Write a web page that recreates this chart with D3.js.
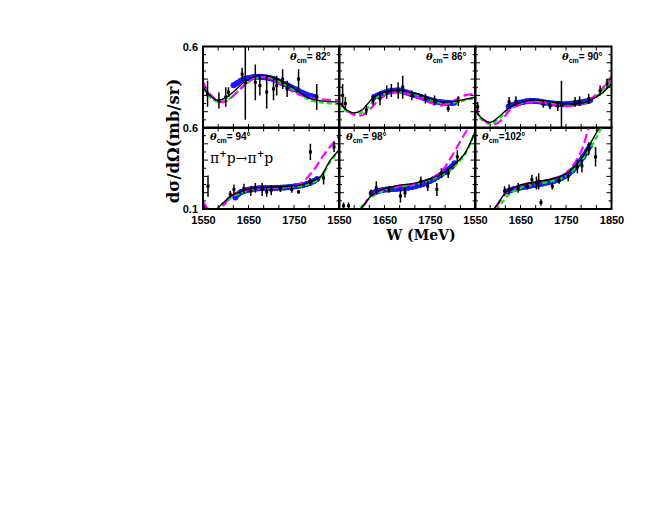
<!DOCTYPE html>
<html><head><meta charset="utf-8">
<script src="https://cdn.jsdelivr.net/npm/d3@7"></script>
<style>body{margin:0;background:#fff}svg{display:block}</style>
</head><body>
<svg id="c" width="664" height="513"></svg>
<script>
const angles = [82, 86, 90, 94, 98, 102];
const xTickLabels = [1550, 1650, 1750];
const yTickLabelsTop = [0.6];
const yTickLabelsBottom = [0.1, 0.6];

// black solid curves [W, value]
const blackCurves = [
 [[1550,0.352],[1565,0.30],[1581,0.27],[1600,0.285],[1620,0.33],[1645,0.39],[1676,0.424],[1705,0.41],[1740,0.36],[1786,0.28],[1815,0.265],[1850,0.26]],
 [[1550,0.26],[1565,0.215],[1583,0.193],[1600,0.21],[1627,0.29],[1650,0.32],[1679,0.331],[1720,0.31],[1775,0.259],[1800,0.262],[1826,0.275],[1850,0.29]],
 [[1550,0.21],[1565,0.16],[1584,0.135],[1605,0.175],[1627,0.228],[1650,0.255],[1671,0.27],[1700,0.268],[1744,0.249],[1780,0.25],[1803,0.27],[1832,0.32],[1850,0.373]],
 [[1550,0.13],[1560,0.09],[1577,0.095],[1595,0.14],[1610,0.177],[1632,0.207],[1660,0.227],[1710,0.235],[1764,0.247],[1790,0.27],[1808,0.298],[1830,0.40],[1850,0.463]],
 [[1550,0.05],[1597,0.10],[1619,0.177],[1642,0.217],[1680,0.245],[1715,0.257],[1752,0.287],[1789,0.338],[1810,0.39],[1826,0.439],[1850,0.58]],
 [[1550,0.02],[1591,0.10],[1620,0.207],[1649,0.247],[1686,0.267],[1722,0.287],[1751,0.318],[1781,0.40],[1803,0.50],[1821,0.59],[1830,0.64]]
];
// green dashed curves
const greenCurves = [
 [[1550,0.345],[1565,0.29],[1584,0.259],[1605,0.275],[1625,0.32],[1650,0.38],[1676,0.414],[1705,0.40],[1740,0.35],[1786,0.27],[1815,0.255],[1850,0.245]],
 [[1550,0.255],[1565,0.205],[1590,0.186],[1610,0.215],[1630,0.28],[1655,0.315],[1680,0.325],[1720,0.305],[1775,0.252],[1800,0.255],[1826,0.27],[1850,0.285]],
 [[1550,0.205],[1565,0.15],[1584,0.125],[1605,0.165],[1627,0.22],[1650,0.25],[1671,0.265],[1700,0.262],[1744,0.243],[1780,0.245],[1803,0.27],[1832,0.33],[1850,0.40]],
 [[1550,0.12],[1560,0.085],[1580,0.09],[1598,0.13],[1612,0.17],[1635,0.2],[1660,0.222],[1710,0.23],[1764,0.24],[1790,0.262],[1808,0.29],[1830,0.39],[1850,0.463]],
 [[1550,0.04],[1593,0.10],[1617,0.165],[1642,0.205],[1680,0.237],[1715,0.25],[1752,0.28],[1789,0.33],[1810,0.38],[1826,0.43],[1850,0.58]],
 [[1550,0.02],[1597,0.10],[1625,0.19],[1655,0.235],[1690,0.255],[1722,0.272],[1751,0.30],[1781,0.39],[1805,0.48],[1828,0.60],[1835,0.64]]
];
// magenta long-dash curves
const magentaCurves = [
 [[1550,0.383],[1565,0.31],[1588,0.259],[1605,0.27],[1625,0.32],[1650,0.385],[1676,0.42],[1705,0.39],[1749,0.321],[1786,0.285],[1815,0.275],[1850,0.27]],
 [[1550,0.265],[1570,0.2],[1597,0.176],[1620,0.22],[1640,0.28],[1665,0.315],[1686,0.322],[1720,0.29],[1775,0.238],[1800,0.265],[1826,0.30],[1850,0.31]],
 [[1550,0.22],[1568,0.15],[1595,0.125],[1612,0.16],[1630,0.22],[1655,0.25],[1675,0.262],[1700,0.255],[1745,0.235],[1780,0.245],[1810,0.29],[1835,0.36],[1850,0.414]],
 [[1550,0.146],[1562,0.10],[1578,0.085],[1598,0.135],[1615,0.185],[1640,0.215],[1665,0.228],[1710,0.232],[1760,0.25],[1793,0.338],[1815,0.43],[1841,0.52],[1850,0.55]],
 [[1550,0.04],[1597,0.10],[1620,0.18],[1645,0.22],[1680,0.24],[1715,0.255],[1752,0.287],[1775,0.33],[1797,0.42],[1826,0.56],[1840,0.62]],
 [[1550,0.02],[1592,0.10],[1620,0.205],[1650,0.245],[1685,0.265],[1720,0.285],[1750,0.32],[1781,0.44],[1799,0.59],[1805,0.64]]
];
// dense blue data points
const bluePoints = [
 [[1617,0.362],[1625,0.375],[1633,0.39],[1641,0.40],[1649,0.405],[1657,0.41],[1665,0.414],[1673,0.414],[1681,0.412],[1689,0.41],[1697,0.405],[1705,0.40],[1713,0.39],[1721,0.38],[1729,0.37],[1737,0.36],[1745,0.348],[1753,0.337],[1761,0.326],[1769,0.315],[1777,0.305],[1785,0.298],[1793,0.292],[1797,0.29]],
 [[1627,0.29],[1635,0.30],[1643,0.31],[1651,0.318],[1659,0.324],[1667,0.328],[1675,0.33],[1683,0.33],[1691,0.325],[1699,0.318],[1707,0.31],[1715,0.303],[1723,0.296],[1731,0.289],[1739,0.282],[1747,0.275],[1755,0.268],[1763,0.263],[1771,0.259],[1779,0.257],[1787,0.255],[1795,0.254],[1803,0.255]],
 [[1624,0.232],[1632,0.24],[1640,0.248],[1648,0.255],[1656,0.26],[1664,0.264],[1672,0.267],[1680,0.266],[1688,0.264],[1696,0.261],[1704,0.257],[1712,0.254],[1720,0.251],[1728,0.249],[1736,0.247],[1744,0.246],[1752,0.247],[1760,0.249],[1768,0.251],[1776,0.254],[1784,0.257],[1792,0.262],[1800,0.267],[1803,0.27]],
 [[1621,0.17],[1627,0.19],[1633,0.203],[1641,0.212],[1649,0.218],[1657,0.222],[1665,0.225],[1673,0.227],[1681,0.228],[1689,0.229],[1697,0.229],[1705,0.229],[1713,0.23],[1721,0.231],[1729,0.232],[1737,0.234],[1745,0.236],[1753,0.239],[1761,0.242],[1769,0.246],[1777,0.252],[1785,0.26],[1793,0.27],[1801,0.284]],
 [[1622,0.195],[1630,0.205],[1638,0.212],[1646,0.216],[1654,0.219],[1662,0.221],[1670,0.222],[1678,0.224],[1686,0.226],[1694,0.228],[1702,0.231],[1710,0.235],[1718,0.24],[1726,0.246],[1734,0.253],[1742,0.262],[1750,0.272],[1758,0.283],[1766,0.296],[1774,0.31],[1782,0.325],[1790,0.342],[1798,0.36],[1804,0.38]],
 [[1620,0.207],[1628,0.215],[1636,0.222],[1644,0.228],[1652,0.233],[1660,0.237],[1668,0.241],[1676,0.245],[1684,0.249],[1692,0.253],[1700,0.257],[1708,0.262],[1716,0.267],[1724,0.273],[1732,0.28],[1740,0.29],[1748,0.302],[1756,0.318],[1764,0.336],[1772,0.36],[1780,0.39],[1788,0.42],[1796,0.455],[1803,0.49]]
];
// black data points with error bars [W, value, error]
const blackPoints = [
 [[1560,0.31,0.08],[1585,0.27,0.05],[1600,0.29,0.06],[1606,0.32,0.03],[1636,0.43,0.04],[1643,0.38,0.23],[1665,0.38,0.11],[1675,0.36,0.06],[1690,0.32,0.1],[1705,0.34,0.07],[1712,0.36,0.06],[1725,0.40,0.06],[1735,0.34,0.05],[1760,0.40,0.06],[1800,0.29,0.08]],
 [[1558,0.30,0.07],[1564,0.25,0.04],[1610,0.21,0.03],[1625,0.27,0.03],[1640,0.28,0.04],[1655,0.32,0.04],[1665,0.33,0.04],[1680,0.33,0.05],[1690,0.35,0.07],[1710,0.30,0.03],[1740,0.28,0.03],[1760,0.27,0.03],[1790,0.22,0.02],[1812,0.265,0.03]],
 [[1556,0.23,0.03],[1625,0.26,0.03],[1640,0.265,0.03],[1700,0.245,0.02],[1715,0.235,0.02],[1732,0.235,0.03],[1740,0.24,0.15],[1770,0.26,0.03],[1780,0.265,0.03],[1800,0.28,0.03],[1825,0.33,0.03],[1840,0.37,0.03]],
 [[1561,0.24,0.065],[1610,0.19,0.02],[1618,0.22,0.03],[1640,0.225,0.03],[1655,0.21,0.03],[1665,0.23,0.03],[1680,0.22,0.04],[1690,0.205,0.03],[1700,0.215,0.03],[1720,0.225,0.02],[1745,0.22,0.02],[1760,0.205,0.012],[1785,0.27,0.02],[1786,0.45,0.05],[1815,0.29,0.04],[1838,0.48,0.03]],
 [[1560,0.12,0.02],[1571,0.12,0.02],[1620,0.20,0.02],[1632,0.23,0.04],[1660,0.22,0.02],[1685,0.18,0.04],[1695,0.20,0.03],[1730,0.27,0.03],[1745,0.24,0.03],[1765,0.22,0.04],[1775,0.32,0.03],[1790,0.32,0.03],[1810,0.42,0.04]],
 [[1615,0.21,0.03],[1625,0.22,0.03],[1645,0.23,0.03],[1665,0.24,0.02],[1675,0.28,0.03],[1685,0.26,0.04],[1690,0.27,0.05],[1695,0.14,0.02],[1720,0.24,0.02],[1735,0.275,0.02],[1755,0.30,0.03],[1775,0.36,0.04],[1785,0.365,0.04],[1800,0.47,0.04],[1815,0.42,0.06]]
];

const svg = d3.select("#c");
const lefts = [203, 339, 475], pw = 136.5;
const tops = [46.5, 127.5], ph = 81.5;
const defs = svg.append("defs");

angles.forEach((ang, i) => {
  const col = i % 3, row = Math.floor(i / 3);
  const x = d3.scaleLinear().domain([1550, 1850]).range([lefts[col], lefts[col] + pw]);
  const y = d3.scaleLinear().domain([0.1, 0.6]).range([tops[row] + ph, tops[row]]);
  const cid = "clip" + i;
  defs.append("clipPath").attr("id", cid).append("rect")
    .attr("x", lefts[col]).attr("y", tops[row]).attr("width", pw).attr("height", ph);
  const g = svg.append("g").attr("clip-path", `url(#${cid})`);
  const line = d3.line().x(d => x(d[0])).y(d => y(d[1])).curve(d3.curveCatmullRom.alpha(0.5));

  // blue dense data
  g.selectAll(".bp").data(bluePoints[i]).join("circle")
    .attr("cx", d => x(d[0])).attr("cy", d => y(d[1])).attr("r", 3).attr("fill", "#1a1aff");
  g.append("path").datum(bluePoints[i]).attr("d", line).attr("fill", "none")
    .attr("stroke", "#1a1aff").attr("stroke-width", 5.5);

  g.append("path").datum(greenCurves[i]).attr("d", line).attr("fill", "none")
    .attr("stroke", "#00ee00").attr("stroke-width", 2.2).attr("stroke-dasharray", "5,3");
  g.append("path").datum(magentaCurves[i]).attr("d", line).attr("fill", "none")
    .attr("stroke", "#ff00ff").attr("stroke-width", 2.2).attr("stroke-dasharray", "9,4");
  g.append("path").datum(blackCurves[i]).attr("d", line).attr("fill", "none")
    .attr("stroke", "#000").attr("stroke-width", 1.4);

  // black error-bar points
  const ep = g.selectAll(".ep").data(blackPoints[i]).join("g");
  ep.append("line").attr("x1", d => x(d[0])).attr("x2", d => x(d[0]))
    .attr("y1", d => y(d[1] - d[2])).attr("y2", d => y(d[1] + d[2]))
    .attr("stroke", "#000").attr("stroke-width", 1.5);
  ep.append("rect").attr("x", d => x(d[0]) - 1.5).attr("y", d => y(d[1]) - 1.5)
    .attr("width", 3).attr("height", 3).attr("fill", "#000");

  // inward ticks
  const tk = svg.append("g").attr("stroke", "#000").attr("stroke-width", 1);
  d3.range(0.15, 0.6, 0.05).forEach((v, k) => {
    const len = (k % 2 === 1) ? 5 : 3;
    tk.append("line").attr("x1", lefts[col]).attr("x2", lefts[col] + len).attr("y1", y(v)).attr("y2", y(v));
    tk.append("line").attr("x1", lefts[col] + pw).attr("x2", lefts[col] + pw - len).attr("y1", y(v)).attr("y2", y(v));
  });
  d3.range(1550 + 100 / 3, 1850, 100 / 3).forEach(w => {
    tk.append("line").attr("x1", x(w)).attr("x2", x(w)).attr("y1", tops[row]).attr("y2", tops[row] + 4);
    tk.append("line").attr("x1", x(w)).attr("x2", x(w)).attr("y1", tops[row] + ph).attr("y2", tops[row] + ph - 4);
  });

  // frame
  svg.append("rect").attr("x", lefts[col]).attr("y", tops[row]).attr("width", pw).attr("height", ph)
    .attr("fill", "none").attr("stroke", "#000").attr("stroke-width", 2);

  // angle label
  const lx = row === 0 ? lefts[col] + 87 : lefts[col] + 7;
  const ly = row === 0 ? tops[row] + 13 : tops[row] + 12;
  const t = svg.append("text").attr("x", lx).attr("y", ly)
    .attr("font-family", "Liberation Sans, Arial, sans-serif").attr("font-weight", "bold").attr("font-size", 10);
  t.append("tspan").attr("font-family", "DejaVu Serif, serif").attr("font-style", "italic").attr("font-size", 10).text("θ");
  t.append("tspan").attr("dy", 3).attr("font-size", 7).text("cm");
  t.append("tspan").attr("dy", -3).text(ang >= 100 ? "=" + ang + "°" : "= " + ang + "°");

  // x axis labels on bottom row
  if (row === 1) {
    const vals = col === 2 ? xTickLabels.concat([1850]) : xTickLabels;
    const ax = d3.axisBottom(x).tickValues(vals).tickSize(0).tickPadding(7).tickFormat(d3.format("d"));
    const ag = svg.append("g").attr("transform", `translate(0,${tops[row] + ph})`).call(ax);
    ag.select(".domain").remove();
    ag.selectAll("text").attr("font-family", "Liberation Sans, Arial, sans-serif")
      .attr("font-weight", "bold").attr("font-size", 11).attr("fill", "#000");
  }
  // y axis labels on first column
  if (col === 0) {
    const ay = d3.axisLeft(y).tickValues(row === 0 ? yTickLabelsTop : yTickLabelsBottom)
      .tickSize(0).tickPadding(5).tickFormat(d3.format(".1f"));
    const ag = svg.append("g").attr("transform", `translate(${lefts[0]},0)`).call(ay);
    ag.select(".domain").remove();
    ag.selectAll("text").attr("font-family", "Liberation Sans, Arial, sans-serif")
      .attr("font-weight", "bold").attr("font-size", 11).attr("fill", "#000");
  }
});

// reaction label
const r = svg.append("text").attr("x", 210).attr("y", 163)
  .attr("font-family", "DejaVu Serif, serif").attr("font-size", 14);
r.append("tspan").text("π");
r.append("tspan").attr("dy", -6).attr("font-size", 9).attr("font-weight", "bold").text("+");
r.append("tspan").attr("dy", 6).text("p→π");
r.append("tspan").attr("dy", -6).attr("font-size", 9).attr("font-weight", "bold").text("+");
r.append("tspan").attr("dy", 6).text("p");

// axis titles
svg.append("text").attr("x", 421).attr("y", 240).attr("text-anchor", "middle")
  .attr("font-family", "DejaVu Serif, serif").attr("font-weight", "bold")
  .attr("font-size", 14).text("W (MeV)");
svg.append("text").attr("transform", "translate(179,141) rotate(-90)").attr("text-anchor", "middle")
  .attr("font-family", "DejaVu Serif, serif").attr("font-weight", "bold")
  .attr("font-size", 16.5).text("dσ/dΩ(mb/sr)");
</script>
</body></html>
